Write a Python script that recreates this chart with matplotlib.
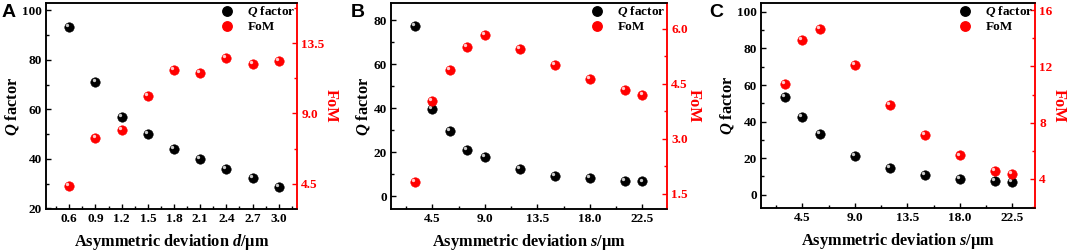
import matplotlib
matplotlib.use('Agg')
import matplotlib.pyplot as plt
from matplotlib.ticker import MultipleLocator
from matplotlib.transforms import offset_copy
from matplotlib.legend_handler import HandlerTuple
from matplotlib.lines import Line2D

plt.rcParams['font.family'] = 'Liberation Serif'
plt.rcParams['font.weight'] = 'bold'
plt.rcParams['axes.labelweight'] = 'bold'
plt.rcParams['mathtext.fontset'] = 'custom'
plt.rcParams['mathtext.rm'] = 'Liberation Serif:bold'
plt.rcParams['mathtext.it'] = 'Liberation Serif:italic:bold'

# Panel A: asymmetric deviation d
d_a = [0.6, 0.9, 1.2, 1.5, 1.8, 2.1, 2.4, 2.7, 3.0]
q_a = [93.4, 70.9, 56.8, 50.0, 44.0, 40.0, 35.9, 32.4, 28.5]
fom_a = [4.35, 7.43, 7.94, 10.1, 11.79, 11.6, 12.56, 12.19, 12.35]

# Panel B: asymmetric deviation s
s_b = [3.0, 4.5, 6.0, 7.5, 9.0, 12.0, 15.0, 18.0, 21.0, 22.5]
q_b = [77.4, 39.9, 29.9, 21.0, 17.9, 12.4, 9.5, 8.2, 7.1, 6.8]
fom_b = [1.83, 4.03, 4.88, 5.51, 5.83, 5.44, 5.02, 4.63, 4.33, 4.19]

# Panel C: asymmetric deviation s
s_c = [3.0, 4.5, 6.0, 9.0, 12.0, 15.0, 18.0, 21.0, 22.5]
q_c = [53.3, 42.4, 33.3, 21.3, 14.7, 10.8, 8.7, 7.3, 6.7]
fom_c = [10.76, 13.86, 14.66, 12.1, 9.25, 7.14, 5.67, 4.59, 4.35]

W, H = 1072, 252
fig = plt.figure(figsize=(W / 100, H / 100), dpi=100)

RED = '#ff0000'
MS = 6.8


def balls(ax, x, y, color):
    ax.plot(x, y, 'o', ms=MS, mfc=color, mec=color, mew=0.4, ls='none', zorder=3)
    tr = offset_copy(ax.transData, fig=fig, x=-1.4, y=1.4, units='points')
    ax.plot(x, y, 'o', ms=2.4, mfc='white', mec='none', alpha=0.8,
            ls='none', transform=tr, zorder=4)


def panel(rect, letter, letter_x, x, q, fom, xlim, ylim, y2lim,
          xmaj, ymaj, y2maj, y2fmt, xvar):
    l, r, t, b = rect
    ax = fig.add_axes([l / W, 1 - b / H, (r - l) / W, (b - t) / H])
    ax2 = ax.twinx()
    balls(ax, x, q, 'black')
    balls(ax2, x, fom, RED)
    ax.set_xlim(*xlim)
    ax.set_ylim(*ylim)
    ax2.set_ylim(*y2lim)

    ax.xaxis.set_major_locator(MultipleLocator(xmaj))
    ax.xaxis.set_minor_locator(MultipleLocator(xmaj / 2))
    ax.yaxis.set_major_locator(MultipleLocator(ymaj))
    ax.yaxis.set_minor_locator(MultipleLocator(ymaj / 2))
    ax2.yaxis.set_major_locator(MultipleLocator(y2maj))
    ax2.yaxis.set_minor_locator(MultipleLocator(y2maj / 2))
    ax.xaxis.set_major_formatter(plt.FormatStrFormatter('%.1f'))
    ax2.yaxis.set_major_formatter(plt.FormatStrFormatter(y2fmt))

    ax.tick_params(which='both', direction='in', width=1.0, labelsize=9.5, pad=3)
    ax.tick_params(which='major', length=3.5)
    ax.tick_params(which='minor', length=2)
    ax.tick_params(axis='x', which='both', top=False)
    ax2.tick_params(which='both', direction='in', width=1.0, labelsize=9.5,
                    colors=RED, pad=3)
    ax2.tick_params(which='major', length=3.5)
    ax2.tick_params(which='minor', length=2)

    for sp in ax.spines.values():
        sp.set_linewidth(1.1)
    for sp in ax2.spines.values():
        sp.set_linewidth(1.1)
    ax2.spines['right'].set_color(RED)
    ax.spines['right'].set_color(RED)

    ax.set_ylabel(r'$\mathit{Q}$ factor', fontsize=11.8, fontweight='bold', labelpad=1)
    ax2.set_ylabel('FoM', fontsize=11.8, fontweight='bold', color=RED,
                   rotation=270, labelpad=10)
    ax.set_xlabel(r'Asymmetric deviation $\mathit{%s}$/μm' % xvar,
                  fontsize=11.8, fontweight='bold', labelpad=5)

    hq = (Line2D([], [], marker='o', ls='none', ms=MS, mfc='black', mec='black'),
          Line2D([], [], marker='o', ls='none', ms=2.4, mfc='white', mec='none', alpha=0.8))
    hf = (Line2D([], [], marker='o', ls='none', ms=MS, mfc=RED, mec=RED),
          Line2D([], [], marker='o', ls='none', ms=2.4, mfc='white', mec='none', alpha=0.8))
    ax2.legend([hq, hf], [r'$\mathit{Q}$ factor', 'FoM'],
               handler_map={tuple: HandlerTuple(ndivide=None, pad=0)},
               loc='upper right', frameon=False, fontsize=9.5,
               borderaxespad=0.05, handletextpad=0.6, labelspacing=0.12,
               handlelength=1.2, borderpad=0.05)

    fig.text(letter_x / W, 1 - 4 / H, letter, fontsize=14, fontweight='bold',
             family='Liberation Sans', va='top', ha='left')
    return ax, ax2


panel((46, 297, 3, 209), 'A', 2, d_a, q_a, fom_a,
      (0.333, 3.21), (19.7, 103), (2.88, 16.08), 0.3, 20, 4.5, '%.1f', 'd')
panel((391, 667, 3, 209), 'B', 351, s_b, q_b, fom_b,
      (0.96, 24.6), (-5.7, 87.8), (1.09, 6.70), 4.5, 20, 1.5, '%.1f', 's')
panel((761, 1035, 3, 208), 'C', 709, s_c, q_c, fom_c,
      (0.96, 24.44), (-7.3, 104.9), (1.94, 16.5), 4.5, 20, 4, '%d', 's')

fig.savefig('out.png', dpi=100)
